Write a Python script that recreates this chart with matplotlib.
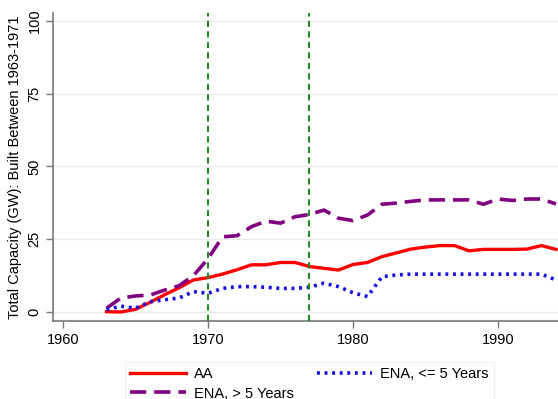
import numpy as np
import matplotlib
matplotlib.use("Agg")
import matplotlib.pyplot as plt

plt.rcParams['font.family'] = ['Liberation Sans', 'DejaVu Sans']

years = np.arange(1963, 1995)

aa = [0.1, 0.0, 0.9, 3.3, 5.9, 8.3, 11.0, 11.8, 13.0, 14.5, 16.2, 16.2,
      17.0, 17.0, 15.6, 15.0, 14.4, 16.3, 17.0, 19.0, 20.3, 21.6, 22.3, 22.8,
      22.8, 21.0, 21.5, 21.5, 21.5, 21.6, 22.8, 21.5]

ena_old = [1.3, 4.8, 5.5, 5.8, 7.5, 9.0, 12.5, 18.3, 25.8, 26.2, 29.3, 31.2,
           30.5, 32.7, 33.5, 35.0, 32.2, 31.4, 33.3, 37.0, 37.4, 38.0, 38.5, 38.5,
           38.5, 38.5, 37.0, 38.8, 38.3, 38.8, 38.8, 37.1]

ena_new = [0.8, 2.0, 1.3, 3.5, 4.2, 4.8, 7.0, 6.4, 8.1, 8.7, 8.7, 8.5,
           8.1, 8.1, 8.5, 9.9, 8.7, 6.6, 5.3, 12.1, 12.7, 13.0, 13.0, 13.0,
           13.0, 13.0, 13.0, 13.0, 13.0, 13.0, 13.0, 11.0]

event_years = [1970, 1977]
x_ticks = [1960, 1970, 1980, 1990]
y_ticks = [0, 25, 50, 75, 100]

fig = plt.figure(figsize=(5.58, 3.99), dpi=100)
ax = fig.add_axes([0.0955, 0.1955, 0.9045, 0.7712])

for y in y_ticks:
    ax.axhline(y, color='#e6ecef', lw=0.8, zorder=0)

l_aa, = ax.plot(years, aa, color='#ff0000', lw=2.4, label='AA', zorder=3)
l_old, = ax.plot(years, ena_old, color='#800080', lw=2.6, dashes=(4.5, 2.2),
                 label='ENA, > 5 Years', zorder=3)
l_new, = ax.plot(years, ena_new, color='#1010e8', lw=2.6, dashes=(0.8, 1.3),
                 label='ENA, <= 5 Years', zorder=3)

for yr in event_years:
    ax.axvline(yr, color='#1a8a1a', lw=1.4, dashes=(3.2, 2.2), zorder=4)

ax.set_xlim(1959.33, 1994.14)
ax.set_ylim(-3.1, 102.6)
ax.set_xticks(x_ticks)
ax.set_yticks(y_ticks)
ax.tick_params(axis='both', colors='#777777', labelcolor='black',
               labelsize=10.5, length=5, width=1)
for lab in ax.get_yticklabels():
    lab.set_rotation(90)
    lab.set_va('center')

for side in ['top', 'right']:
    ax.spines[side].set_visible(False)
for side in ['left', 'bottom']:
    ax.spines[side].set_color('#777777')
    ax.spines[side].set_linewidth(1.2)

ax.set_ylabel('Total Capacity (GW): Built Between 1963-1971', fontsize=10.5,
              labelpad=4)

fig.legend(handles=[l_aa, l_old, l_new], loc='upper left',
           bbox_to_anchor=(0.2115, 0.112), ncol=2, frameon=True, fancybox=False,
           edgecolor='#eeeeee', fontsize=10.5, handlelength=3.8,
           columnspacing=1.6, borderpad=0.35, labelspacing=0.4,
           handletextpad=0.55)

fig.savefig('out.png', dpi=100)
